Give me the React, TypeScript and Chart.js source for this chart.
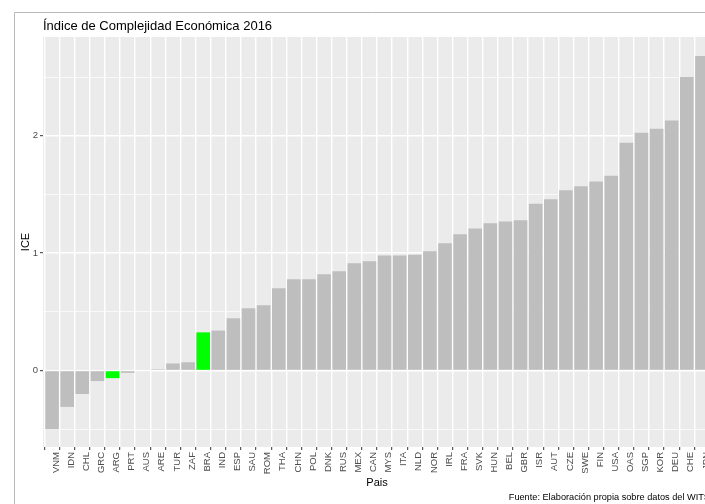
import React, { useEffect, useRef } from 'react';
import { Chart, registerables } from 'chart.js';

Chart.register(...registerables);

// ---- data ----
const categories = [
  'VNM', 'IDN', 'CHL', 'GRC', 'ARG', 'PRT', 'AUS', 'ARE', 'TUR', 'ZAF',
  'BRA', 'IND', 'ESP', 'SAU', 'ROM', 'THA', 'CHN', 'POL', 'DNK', 'RUS',
  'MEX', 'CAN', 'MYS', 'ITA', 'NLD', 'NOR', 'IRL', 'FRA', 'SVK', 'HUN',
  'BEL', 'GBR', 'ISR', 'AUT', 'CZE', 'SWE', 'FIN', 'USA', 'OAS', 'SGP',
  'KOR', 'DEU', 'CHE', 'JPN',
];
const iceValues = [
  -0.5, -0.31, -0.2, -0.09, -0.065, -0.02, -0.005, 0.01, 0.06, 0.07,
  0.325, 0.34, 0.445, 0.53, 0.555, 0.7, 0.777, 0.777, 0.82, 0.845,
  0.913, 0.93, 0.98, 0.98, 0.987, 1.015, 1.083, 1.16, 1.21, 1.254,
  1.27, 1.28, 1.42, 1.458, 1.535, 1.57, 1.61, 1.66, 1.94, 2.025,
  2.06, 2.13, 2.5, 2.68,
];
const highlighted = ['ARG', 'BRA'];
const yTickLabels = ['0', '1', '2'];

const titleText = 'Índice de Complejidad Económica 2016';
const xTitle = 'Pais';
const yTitle = 'ICE';
const captionText = 'Fuente: Elaboración propia sobre datos del WITS';

const FONT = '"Liberation Sans", Arial, sans-serif';
const CANVAS_W = 730;
const CANVAS_H = 504;
const PANEL_RIGHT = 711;

export default function App() {
  const ref = useRef<HTMLCanvasElement>(null);

  useEffect(() => {
    const canvas = ref.current;
    if (!canvas) return;

    const decorPlugin = {
      id: 'decor',
      beforeDraw(chart: any) {
        const { ctx, chartArea: a } = chart;
        ctx.save();
        ctx.strokeStyle = '#b9b9b9';
        ctx.lineWidth = 1;
        ctx.beginPath();
        ctx.moveTo(14.5, CANVAS_H);
        ctx.lineTo(14.5, 12.5);
        ctx.lineTo(CANVAS_W, 12.5);
        ctx.stroke();
        ctx.fillStyle = '#EBEBEB';
        ctx.fillRect(a.left, a.top, a.right - a.left, a.bottom - a.top);
        ctx.restore();
      },
      afterDraw(chart: any) {
        const { ctx, chartArea: a } = chart;
        ctx.save();
        ctx.fillStyle = '#000000';
        ctx.font = `13px ${FONT}`;
        ctx.textAlign = 'left';
        ctx.textBaseline = 'alphabetic';
        ctx.fillText(titleText, a.left, 30);

        ctx.font = `11px ${FONT}`;
        ctx.textAlign = 'center';
        ctx.textBaseline = 'middle';
        ctx.fillText(xTitle, (a.left + a.right) / 2, 483);

        ctx.save();
        ctx.translate(26, (a.top + a.bottom) / 2);
        ctx.rotate(-Math.PI / 2);
        ctx.fillText(yTitle, 0, 0);
        ctx.restore();

        ctx.font = `9.2px ${FONT}`;
        ctx.textAlign = 'right';
        ctx.textBaseline = 'alphabetic';
        ctx.fillText(captionText, a.right - 1, 499.5);
        ctx.restore();
      },
    };

    const isInt = (v: number) => Math.abs(v - Math.round(v)) < 1e-9;

    const chart = new Chart(canvas, {
      type: 'bar',
      data: {
        datasets: [
          {
            data: categories.map((c, i) => ({ x: i, y: iceValues[i] })),
            backgroundColor: categories.map((c) =>
              highlighted.includes(c) ? '#00FF00' : '#BEBEBE'
            ),
            borderWidth: 0,
            barPercentage: 0.9,
            categoryPercentage: 1,
          },
        ],
      },
      options: {
        responsive: false,
        devicePixelRatio: 1,
        animation: false,
        layout: { padding: { left: 0, top: 37, right: CANVAS_W - PANEL_RIGHT, bottom: 0 } },
        plugins: {
          legend: { display: false },
          tooltip: { enabled: false },
          title: { display: false },
        },
        scales: {
          x: {
            type: 'linear',
            min: -0.6,
            max: categories.length - 1 + 0.6,
            offset: false,
            border: { display: false },
            grid: {
              color: '#FFFFFF',
              lineWidth: 1.4,
              tickColor: '#333333',
              tickLength: 3,
              tickWidth: 1,
            },
            ticks: {
              stepSize: 1,
              autoSkip: false,
              includeBounds: false,
              maxRotation: 90,
              minRotation: 90,
              padding: 2,
              labelOffset: 4,
              color: '#4D4D4D',
              font: { family: FONT, size: 9.5 },
              callback: (v: any) => categories[Number(v)] ?? '',
            },
            afterFit: (s: any) => {
              s.height = CANVAS_H - 447;
            },
          },
          y: {
            type: 'linear',
            min: -0.6516,
            max: 2.841,
            border: { display: false },
            grid: {
              color: '#FFFFFF',
              lineWidth: (c: any) => (c.tick && isInt(c.tick.value) ? 1.4 : 0.7),
              tickColor: (c: any) =>
                c.tick && isInt(c.tick.value) ? '#333333' : 'rgba(0,0,0,0)',
              tickLength: 3,
              tickWidth: 1,
            },
            ticks: {
              stepSize: 0.5,
              includeBounds: false,
              padding: 2,
              color: '#4D4D4D',
              font: { family: FONT, size: 9.5 },
              callback: (v: any) => {
                const n = Number(v);
                return isInt(n) && yTickLabels.includes(String(Math.round(n)))
                  ? String(Math.round(n))
                  : '';
              },
            },
            afterFit: (s: any) => {
              s.width = 43;
            },
          },
        },
      } as any,
      plugins: [decorPlugin],
    });

    return () => chart.destroy();
  }, []);

  return (
    <div
      style={{
        position: 'fixed',
        left: 0,
        top: 0,
        width: 705,
        height: 504,
        overflow: 'hidden',
        background: '#ffffff',
      }}
    >
      <canvas
        ref={ref}
        width={CANVAS_W}
        height={CANVAS_H}
        style={{ display: 'block', width: CANVAS_W, height: CANVAS_H }}
      />
    </div>
  );
}
